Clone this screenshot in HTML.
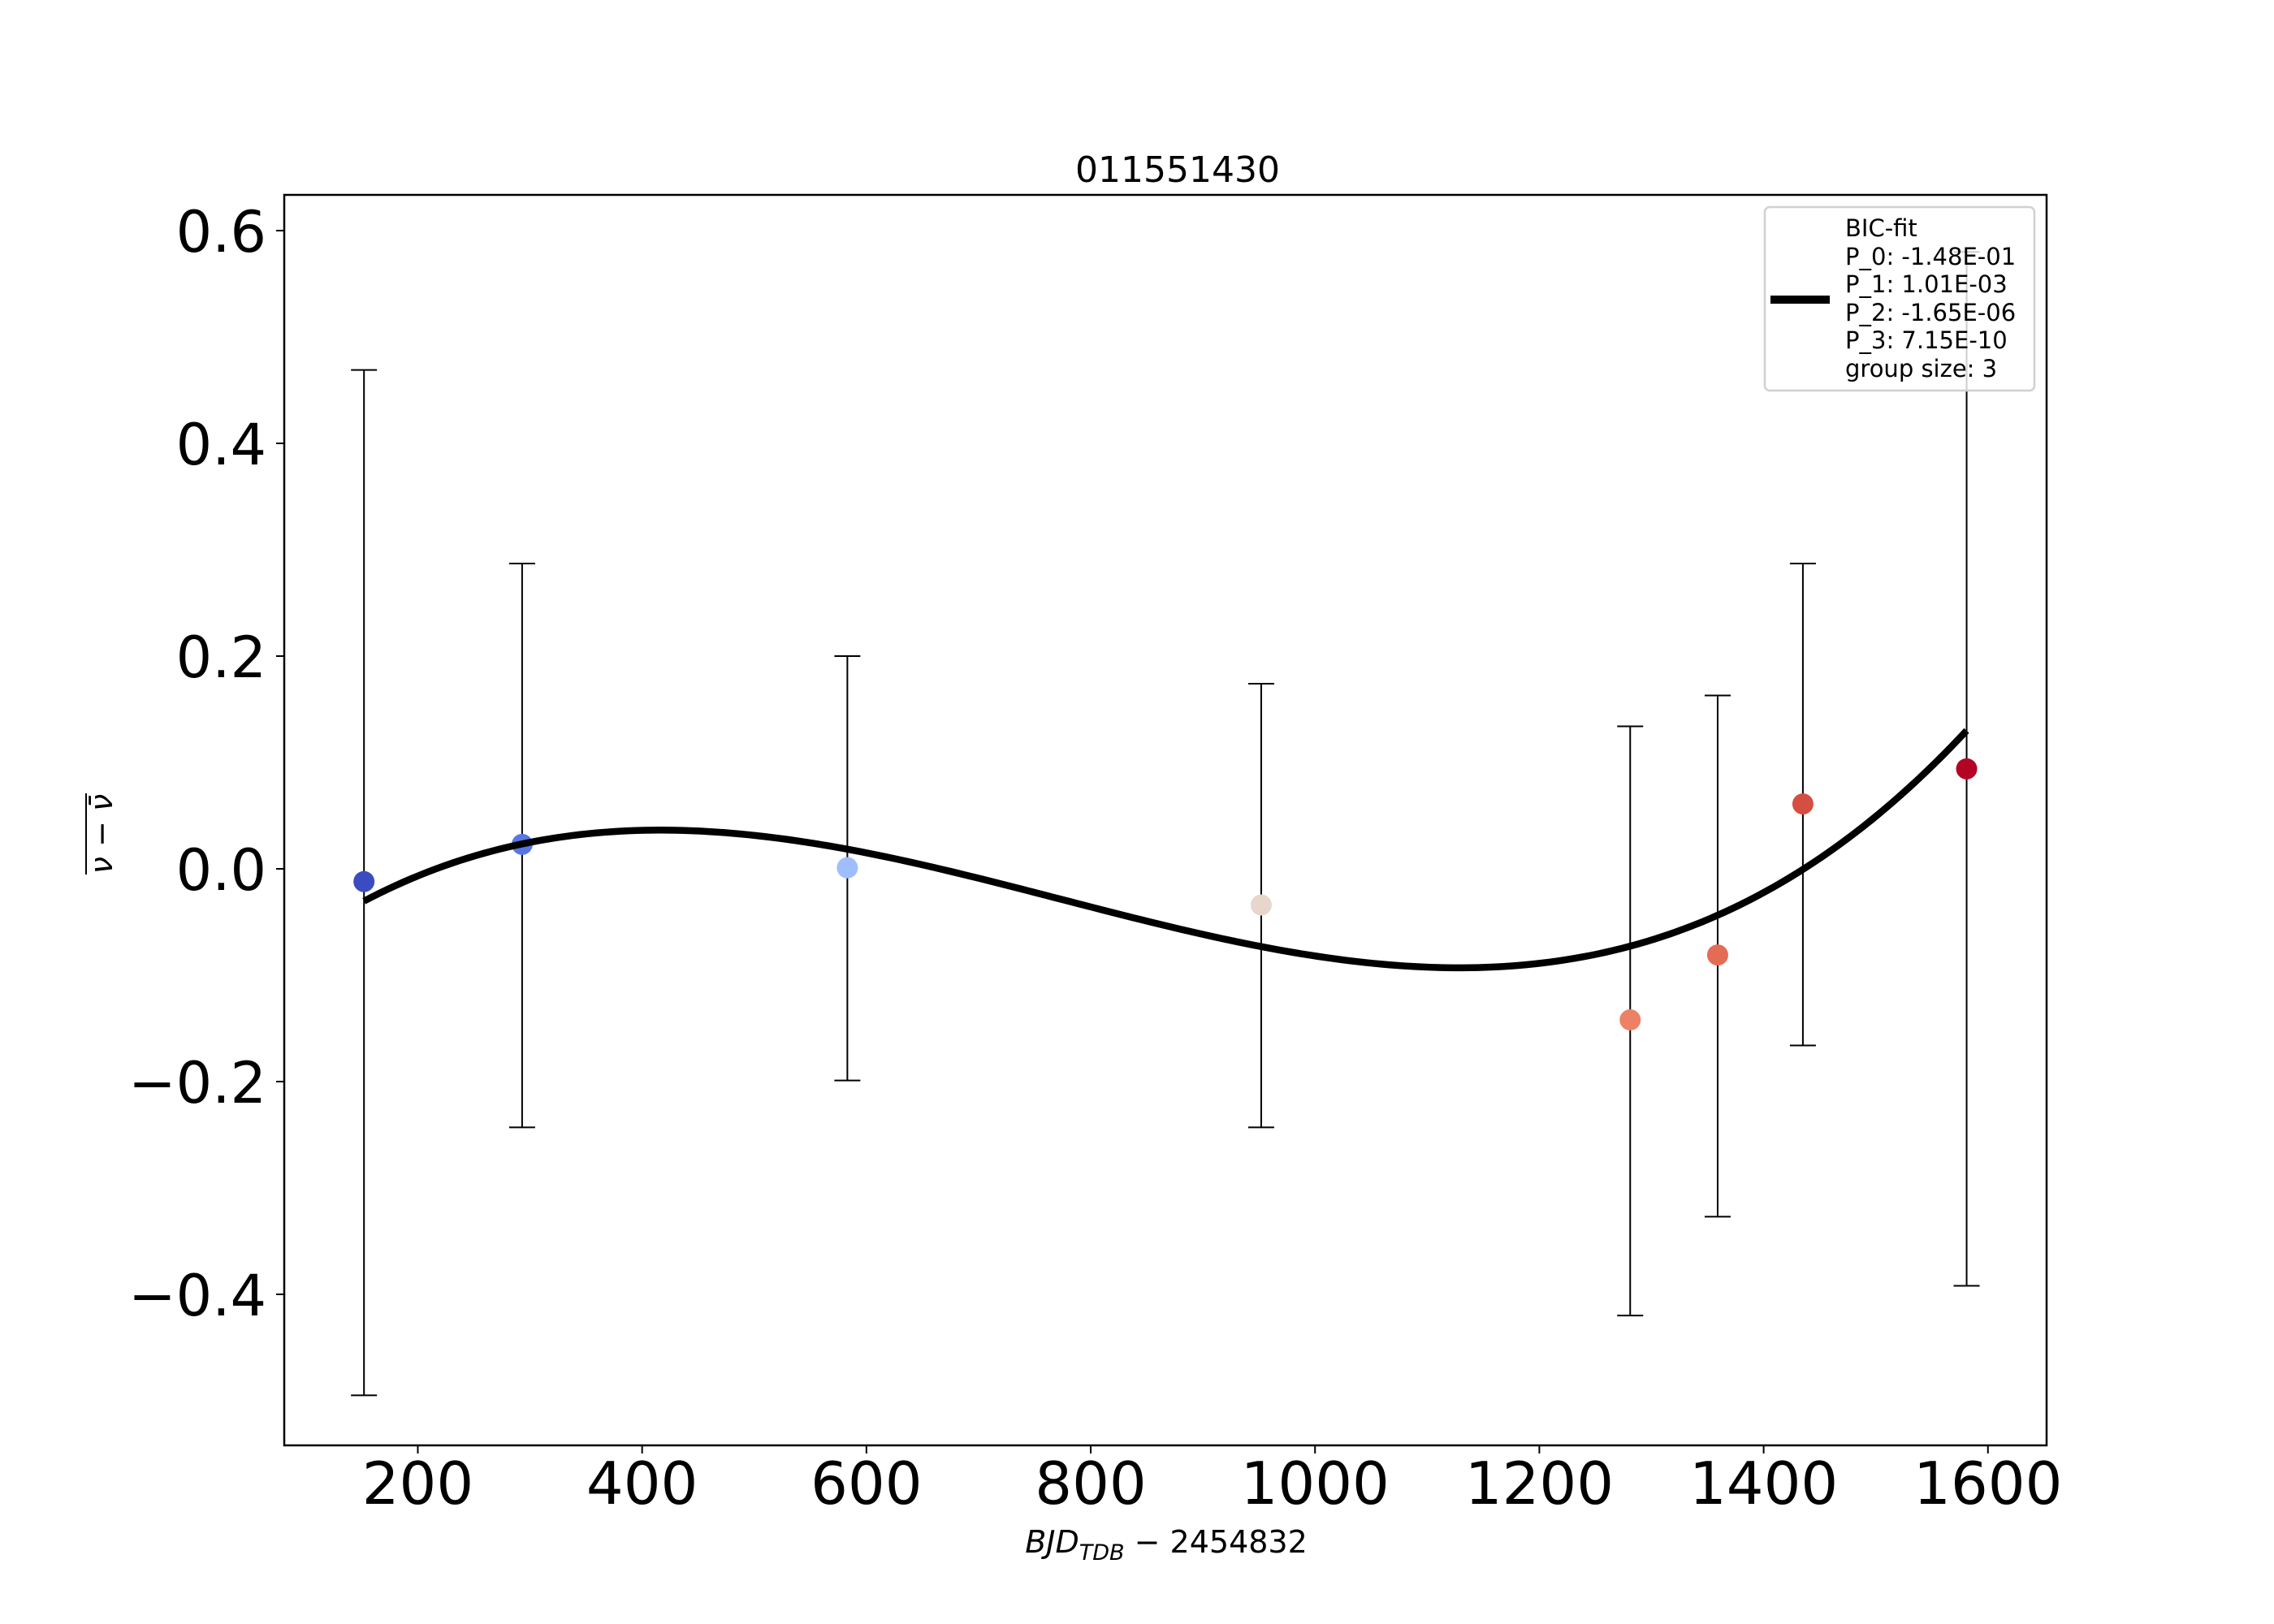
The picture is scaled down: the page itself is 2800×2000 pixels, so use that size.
<!DOCTYPE html>
<html><head><meta charset="utf-8"><style>
html,body{margin:0;padding:0;background:#fff}
svg{display:block;font-family:"DejaVu Sans","Liberation Sans",sans-serif}
</style></head><body>
<svg id="chart" width="2800" height="2000" viewBox="0 0 2800 2000" xmlns="http://www.w3.org/2000/svg">
<rect width="2800" height="2000" fill="#fff"/>
<text x="1450" y="224" font-size="44" text-anchor="middle">011551430</text>
<g id="plot"></g>
<rect x="350" y="240" width="2170" height="1540" fill="none" stroke="#000" stroke-width="2.5"/>
<text x="1436" y="1912" font-size="38" text-anchor="middle"><tspan font-style="italic">BJD</tspan><tspan font-style="italic" font-size="27" dy="9">TDB</tspan><tspan dy="-9"> − 2454832</tspan></text>
<g transform="translate(138,1027) rotate(-90)">
<text x="0" y="0" font-size="38" text-anchor="middle" font-style="italic">ν − ν̄</text>
<line x1="-50" y1="-32" x2="50" y2="-32" stroke="#000" stroke-width="2"/>
</g>
<g>
<rect x="2173" y="255" width="332" height="226" rx="6" fill="#fff" fill-opacity="0.8" stroke="#d0d0d0" stroke-width="2.5"/>
<line x1="2180" y1="369" x2="2253" y2="369" stroke="#000" stroke-width="10"/>
<text font-size="29">
<tspan x="2272" y="291">BIC-fit</tspan>
<tspan x="2272" y="326">P_0: -1.48E-01</tspan>
<tspan x="2272" y="360">P_1: 1.01E-03</tspan>
<tspan x="2272" y="395">P_2: -1.65E-06</tspan>
<tspan x="2272" y="429">P_3: 7.15E-10</tspan>
<tspan x="2272" y="464">group size: 3</tspan>
</text>
</g>
</svg>
<script>
const xVals=[152,293,583,952,1281,1359,1435,1581];
const yVals=[-0.012,0.023,0.001,-0.034,-0.142,-0.081,0.061,0.094];
const errLow=[0.483,0.266,0.200,0.209,0.278,0.246,0.227,0.486];
const errHigh=[0.481,0.264,0.199,0.208,0.276,0.244,0.226,0.486];
const pointColors=["#3b4cc0","#5977e3","#9ebeff","#e8d6cc","#ec8165","#e36c55","#d44e41","#b40426"];
const coeffs=[-0.148,1.01e-3,-1.6604e-6,7.165e-10];
const xTicks=[200,400,600,800,1000,1200,1400,1600];
const yTicks=[-0.4,-0.2,0.0,0.2,0.4,0.6];
const yTickLabels=["−0.4","−0.2","0.0","0.2","0.4","0.6"];

const X0=350,X1=2520,Y0=240,Y1=1780,xMin=80.9,xMax=1652.3,yMin=-0.542,yMax=0.6336;
function sx(v){return X0+(v-xMin)/(xMax-xMin)*(X1-X0);}
function sy(v){return Y1-(v-yMin)/(yMax-yMin)*(Y1-Y0);}
const NS="http://www.w3.org/2000/svg";
const svg=document.getElementById('chart');
const plot=document.getElementById('plot');
function mk(tag,attrs,parent){const e=document.createElementNS(NS,tag);for(const k in attrs)e.setAttribute(k,attrs[k]);(parent||plot).appendChild(e);return e;}

xTicks.forEach(t=>{
  const g=mk('g',{},svg);
  
  
  mk('line',{x1:sx(t),x2:sx(t),y1:1780,y2:1790,stroke:'#000','stroke-width':2},g);
  const tx=mk('text',{x:sx(t),y:1852,'font-size':72,'text-anchor':'middle'},g);
  tx.textContent=t;
});
yTicks.forEach((t,i)=>{
  const g=mk('g',{},svg);
  
  
  mk('line',{x1:340,x2:350,y1:sy(t),y2:sy(t),stroke:'#000','stroke-width':2},g);
  const tx=mk('text',{x:328,y:sy(t)+26,'font-size':70,'text-anchor':'end'},g);
  tx.textContent=yTickLabels[i];
});
xVals.forEach((x,i)=>{
  const g=mk('g',{});
  
  
  const top=sy(yVals[i]+errHigh[i]),bot=sy(yVals[i]-errLow[i]),cx=sx(x);
  mk('line',{x1:cx,x2:cx,y1:top,y2:bot,stroke:'#000','stroke-width':2},g);
  mk('line',{x1:cx-16,x2:cx+16,y1:top,y2:top,stroke:'#000','stroke-width':2},g);
  mk('line',{x1:cx-16,x2:cx+16,y1:bot,y2:bot,stroke:'#000','stroke-width':2},g);
});
xVals.forEach((x,i)=>{
  const c=mk('circle',{cx:sx(x),cy:sy(yVals[i]),r:13,fill:pointColors[i]});
  
  
});
let d='';
const a=Math.min(...xVals),b=Math.max(...xVals);
for(let k=0;k<=200;k++){
  const x=a+(b-a)*k/200;
  const y=coeffs[0]+coeffs[1]*x+coeffs[2]*x*x+coeffs[3]*x*x*x;
  d+=(k?'L':'M')+sx(x).toFixed(2)+','+sy(y).toFixed(2);
}
const fit=mk('path',{d:d,fill:'none',stroke:'#000','stroke-width':8.5});


</script>
</body></html>
